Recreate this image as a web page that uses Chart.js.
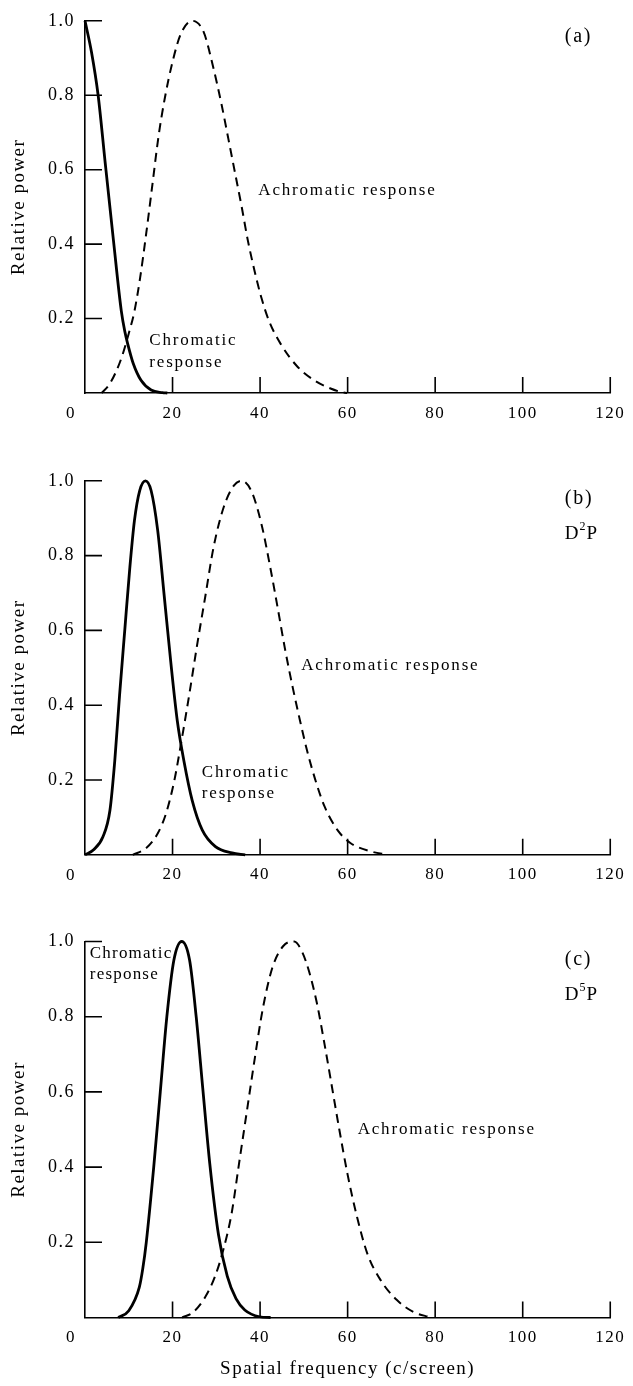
<!DOCTYPE html>
<html>
<head>
<meta charset="utf-8">
<script src="https://cdn.jsdelivr.net/npm/chart.js@4.4.1/dist/chart.umd.min.js"></script>
<style>
  html, body { margin: 0; padding: 0; background: #fff; }
  #wrap { position: relative; width: 633px; height: 1386px; overflow: hidden; }
  canvas { position: absolute; left: 0; }
</style>
</head>
<body>
<div id="wrap">
  <canvas id="panel-a" width="633" height="460" style="top:0px"></canvas>
  <canvas id="panel-b" width="633" height="460" style="top:460px"></canvas>
  <canvas id="panel-c" width="633" height="466" style="top:920px"></canvas>
</div>
<script>
// values (x = spatial frequency, y = relative power)
const chromFreqA  = [0, 1.5, 3.0, 4.6, 6.5, 8.3, 9.1, 9.8, 11, 12.8, 15.1, 17.7, 18.8];
const chromPowerA = [1.0, 0.915, 0.80, 0.62, 0.41, 0.22, 0.165, 0.13, 0.08, 0.034, 0.008, 0.001, 0];
const achromFreqA  = [3.8, 5.5, 7, 8.5, 10, 11.3, 12.6, 14, 15.4, 16.8, 18.2, 20, 21.9, 24.5, 27.1, 29.2, 31.2, 32.8, 34.3, 35.8, 37.2, 38.7, 40.2, 42, 44.8, 48.6, 52.4, 56.1, 58.4, 59.9];
const achromPowerA = [0, 0.022, 0.055, 0.1, 0.16, 0.22, 0.31, 0.43, 0.56, 0.69, 0.79, 0.89, 0.965, 1.0, 0.97, 0.88, 0.775, 0.68, 0.59, 0.5, 0.41, 0.33, 0.26, 0.195, 0.13, 0.07, 0.034, 0.012, 0.003, 0];

const chromFreqB  = [0, 1.9, 4.1, 5.7, 6.8, 7.9, 9.1, 10.2, 11.3, 12.5, 13.8, 15.1, 16.6, 18.1, 19.6, 21.1, 22.6, 24.5, 26.8, 29.8, 33.6, 36.6];
const chromPowerB = [0, 0.013, 0.048, 0.119, 0.251, 0.427, 0.603, 0.762, 0.894, 0.974, 1.0, 0.974, 0.868, 0.692, 0.515, 0.357, 0.251, 0.145, 0.066, 0.022, 0.005, 0];
const achromFreqB  = [10.9, 14, 16.6, 18.5, 20.4, 21.9, 23.8, 25.6, 27.5, 29.4, 31.7, 34, 35.8, 38.1, 40.4, 42.3, 44.1, 45.7, 47.5, 49.1, 50.6, 52.5, 54.7, 57.7, 60.7, 65.3, 69.1];
const achromPowerB = [0, 0.018, 0.057, 0.11, 0.198, 0.295, 0.427, 0.56, 0.692, 0.824, 0.93, 0.987, 1.0, 0.97, 0.88, 0.77, 0.655, 0.55, 0.445, 0.36, 0.285, 0.205, 0.13, 0.066, 0.031, 0.009, 0];

const chromFreqC  = [7.6, 10, 12.4, 13.2, 14, 15.7, 17.2, 18.7, 20.3, 22.1, 23.9, 25.4, 26.9, 28.5, 30.5, 32.5, 34.5, 36.5, 39.9, 42.4];
const chromPowerC = [0, 0.018, 0.08, 0.13, 0.2, 0.4, 0.6, 0.8, 0.95, 1.0, 0.95, 0.8, 0.61, 0.41, 0.22, 0.11, 0.05, 0.02, 0.002, 0];
const achromFreqC  = [22.2, 24.8, 27.5, 29.7, 31.6, 33.5, 35.2, 37, 38.8, 40.6, 42.8, 45.3, 47.8, 49.5, 51.2, 53, 54.6, 56.1, 58.1, 60, 62.2, 64.5, 67.5, 71.2, 75, 79];
const achromPowerC = [0, 0.015, 0.055, 0.109, 0.18, 0.277, 0.41, 0.55, 0.69, 0.82, 0.93, 0.988, 1.0, 0.975, 0.92, 0.835, 0.735, 0.635, 0.5, 0.38, 0.265, 0.17, 0.1, 0.047, 0.015, 0];

const INK = "#000";
const SERIF = "'Liberation Serif', 'Times New Roman', serif";

function toPoints(xs, ys) {
  return xs.map((x, i) => ({ x: x, y: ys[i] }));
}

function drawNote(ctx, xs, ys, note) {
  const px = xs.getPixelForValue(note.x);
  const py = ys.getPixelForValue(note.y);
  ctx.font = `${note.size || 17}px ${SERIF}`;
  ctx.letterSpacing = note.spacing || "1.8px";
  ctx.textAlign = "left";
  ctx.textBaseline = "middle";
  ctx.fillText(note.text, px, py);
  if (note.sup) {
    // superscript digit + trailing letter, e.g. D²P
    let cx = px + ctx.measureText(note.text).width;
    ctx.font = `12px ${SERIF}`;
    ctx.fillText(note.sup, cx, py - 7);
    cx += ctx.measureText(note.sup).width;
    ctx.font = `${note.size || 17}px ${SERIF}`;
    ctx.fillText(note.after, cx, py);
  }
}

// inward tick marks, the corner "0" and the in-plot labels
function decor(cfg) {
  return {
    id: "decor",
    beforeDraw(chart) {
      chart.ctx.letterSpacing = "1.5px";
    },
    afterDraw(chart) {
      const { ctx, chartArea } = chart;
      const xs = chart.scales.x;
      const ys = chart.scales.y;
      ctx.save();
      ctx.strokeStyle = INK;
      ctx.lineWidth = 1.6;
      ctx.beginPath();
      xs.ticks.forEach(t => {
        if (t.value === 0) return;
        const px = xs.getPixelForValue(t.value);
        ctx.moveTo(px, chartArea.bottom);
        ctx.lineTo(px, chartArea.bottom - 16);
      });
      ys.ticks.forEach(t => {
        if (t.value === 0) return;
        const py = ys.getPixelForValue(t.value);
        ctx.moveTo(chartArea.left, py);
        ctx.lineTo(chartArea.left + 17, py);
      });
      ctx.stroke();

      ctx.fillStyle = INK;
      ctx.font = `17px ${SERIF}`;
      ctx.textAlign = "center";
      ctx.textBaseline = "middle";
      ctx.letterSpacing = "1.5px";
      ctx.fillText("0", xs.getPixelForValue(0) - 14, chartArea.bottom + 20.5);

      cfg.notes.forEach(n => drawNote(ctx, xs, ys, n));
      ctx.restore();
    }
  };
}

function makePanel(id, cfg) {
  const ctx = document.getElementById(id).getContext("2d");
  return new Chart(ctx, {
    type: "line",
    data: {
      datasets: [
        {
          label: "Chromatic response",
          data: toPoints(cfg.chromX, cfg.chromY),
          borderColor: INK,
          borderWidth: 2.8,
          pointRadius: 0,
          cubicInterpolationMode: "monotone",
          fill: false,
          clip: false
        },
        {
          label: "Achromatic response",
          data: toPoints(cfg.achromX, cfg.achromY),
          borderColor: INK,
          borderWidth: 2.0,
          borderDash: [9, 6],
          pointRadius: 0,
          cubicInterpolationMode: "monotone",
          fill: false,
          clip: false
        }
      ]
    },
    options: {
      responsive: false,
      animation: false,
      events: [],
      layout: { padding: { top: cfg.padTop, right: 18, left: 0, bottom: 0 } },
      plugins: { legend: { display: false }, tooltip: { enabled: false } },
      scales: {
        x: {
          type: "linear",
          min: 0,
          max: 120,
          afterFit: s => { s.height = cfg.xHeight; },
          grid: { display: false, drawTicks: false },
          border: { color: INK, width: 1.6 },
          ticks: {
            stepSize: 20,
            padding: 10,
            color: INK,
            maxRotation: 0,
            autoSkip: false,
            font: { family: SERIF, size: 17 },
            callback: v => (v === 0 ? "" : String(v))
          },
          title: {
            display: !!cfg.xTitle,
            text: cfg.xTitle || "",
            color: INK,
            font: { family: SERIF, size: 19 },
            padding: { top: 0, bottom: 6 }
          }
        },
        y: {
          type: "linear",
          min: 0,
          max: 1,
          afterFit: s => { s.width = 85; },
          grid: { display: false, drawTicks: false },
          border: { color: INK, width: 1.6 },
          ticks: {
            stepSize: 0.2,
            padding: 10,
            color: INK,
            font: { family: SERIF, size: 18 },
            callback: v => (Math.abs(v) < 1e-9 ? "" : Number(v).toFixed(1))
          },
          title: {
            display: true,
            text: "Relative power",
            color: INK,
            font: { family: SERIF, size: 19 },
            padding: { top: 8, bottom: 0 }
          }
        }
      }
    },
    plugins: [decor(cfg)]
  });
}

makePanel("panel-a", {
  chromX: chromFreqA, chromY: chromPowerA,
  achromX: achromFreqA, achromY: achromPowerA,
  padTop: 15.5, xHeight: 67,
  notes: [
    { text: "(a)", x: 109.6, y: 0.957, size: 20 },
    { text: "Achromatic response", x: 39.6, y: 0.543 },
    { text: "Chromatic", x: 14.7, y: 0.14 },
    { text: "response", x: 14.7, y: 0.082 }
  ]
});

makePanel("panel-b", {
  chromX: chromFreqB, chromY: chromPowerB,
  achromX: achromFreqB, achromY: achromPowerB,
  padTop: 16.7, xHeight: 65.2,
  notes: [
    { text: "(b)", x: 109.6, y: 0.952, size: 20 },
    { text: "D", sup: "2", after: "P", x: 109.6, y: 0.859, size: 19, spacing: "1px" },
    { text: "Achromatic response", x: 49.4, y: 0.506 },
    { text: "Chromatic", x: 26.7, y: 0.219 },
    { text: "response", x: 26.7, y: 0.163 }
  ]
});

makePanel("panel-c", {
  chromX: chromFreqC, chromY: chromPowerC,
  achromX: achromFreqC, achromY: achromPowerC,
  padTop: 21.5, xHeight: 68.5,
  xTitle: "Spatial frequency (c/screen)",
  notes: [
    { text: "(c)", x: 109.6, y: 0.951, size: 20 },
    { text: "D", sup: "5", after: "P", x: 109.6, y: 0.858, size: 19, spacing: "1px" },
    { text: "Achromatic response", x: 62.3, y: 0.499 },
    { text: "Chromatic", x: 1.1, y: 0.969, spacing: "1.2px" },
    { text: "response", x: 1.1, y: 0.911, spacing: "1.2px" }
  ]
});
</script>
</body>
</html>
